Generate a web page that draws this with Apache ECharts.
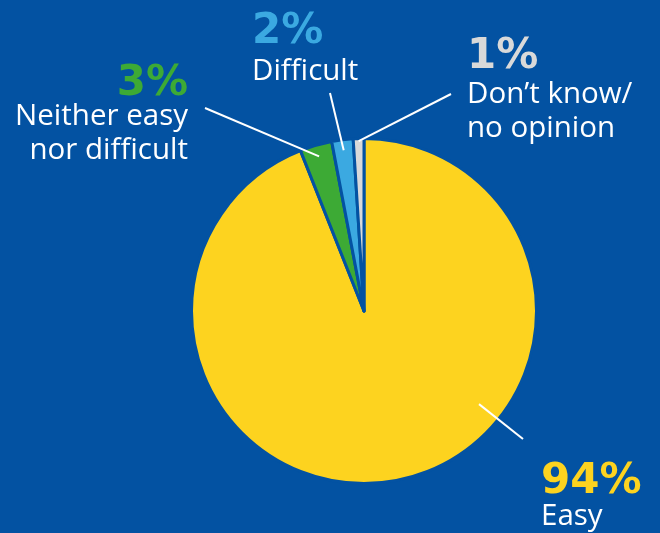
<!DOCTYPE html>
<html>
<head>
<meta charset="utf-8">
<script src="https://cdn.jsdelivr.net/npm/echarts@6/dist/echarts.min.js"></script>
<style>
  html, body { margin: 0; padding: 0; background: #0352A2; }
  #chart { width: 660px; height: 533px; }
</style>
</head>
<body>
<div id="chart"></div>
<script>
// Survey answers, in clockwise order from 12 o'clock
const categories = ['Easy', 'Neither easy\nnor difficult', 'Difficult', 'Don\u2019t know/\nno opinion'];
const values = [94, 3, 2, 1];

const BG = '#0352A2';
const sliceColors = ['#FDD31F', '#3DAA35', '#3BA9E1', '#D9D9D9'];
const numberColors = ['#FDD31F', '#3DAA35', '#3BA9E1', '#D9D9D9'];

const CX = 364, CY = 311, R = 172.5;

// label placement: anchor x, top y, alignment, height of the percentage line,
// where the leader line starts (radius, optional angle) and ends
const labelPlaces = [
  { x: 541, y: 465, align: 'left',  numLH: 34, startR: 148, startAngle: 129, end: [523, 439] },
  { x: 188, y: 69,  align: 'right', numLH: 30, startR: 161, end: [205, 108] },
  { x: 252, y: 10,  align: 'left',  numLH: 44, startR: 162, end: [330, 93] },
  { x: 467, y: 37,  align: 'left',  numLH: 40, startR: 170, end: [451, 94] }
];

const total = values.reduce((a, b) => a + b, 0);
function midAngle(i) {
  let before = 0;
  for (let k = 0; k < i; k++) before += values[k];
  return (before + values[i] / 2) / total * 360;
}
function polar(r, deg) {
  const a = deg * Math.PI / 180;
  return [CX + r * Math.sin(a), CY - r * Math.cos(a)];
}

const NUM_FONT = '"DejaVu Sans", sans-serif';
const TXT_FONT = '"Open Sans", sans-serif';

const sliceData = categories.map((name, i) => ({
  name: name,
  value: values[i],
  itemStyle: { color: sliceColors[i] }
}));

const labelData = categories.map((name, i) => {
  const p = labelPlaces[i];
  return {
    name: name,
    value: values[i],
    label: {
      align: p.align,
      rich: {
        num: { fontSize: 42, fontWeight: 'bold', color: numberColors[i], lineHeight: p.numLH, fontFamily: NUM_FONT, align: p.align },
        txt: { fontSize: 29.5, color: '#FFFFFF', lineHeight: 34.5, fontFamily: TXT_FONT, align: p.align }
      }
    }
  };
});

const chart = echarts.init(document.getElementById('chart'), null, { renderer: 'canvas' });
chart.setOption({
  backgroundColor: BG,
  animation: false,
  series: [
    {
      // the slices
      type: 'pie',
      z: 2,
      center: [CX, CY],
      radius: [0, R],
      startAngle: 90,
      clockwise: true,
      silent: true,
      emphasis: { disabled: true },
      itemStyle: { borderColor: BG, borderWidth: 3 },
      label: { show: false },
      labelLine: { show: false },
      data: sliceData
    },
    {
      // labels and leader lines, drawn above the slices
      type: 'pie',
      z: 3,
      center: [CX, CY],
      radius: [0, R],
      startAngle: 90,
      clockwise: true,
      silent: true,
      avoidLabelOverlap: false,
      emphasis: { disabled: true },
      itemStyle: { color: 'rgba(0,0,0,0)', borderWidth: 0 },
      data: labelData,
      label: {
        show: true,
        position: 'outside',
        fontFamily: TXT_FONT,
        formatter: (params) => {
          const lines = params.name.split('\n').map(s => '{txt|' + s + '}');
          return '{num|' + params.value + '%}\n' + lines.join('\n');
        }
      },
      labelLine: {
        show: true,
        length: 10,
        length2: 10,
        lineStyle: { color: '#FFFFFF', width: 2 }
      },
      labelLayout: (params) => {
        const i = params.dataIndex;
        const p = labelPlaces[i];
        const ang = p.startAngle != null ? p.startAngle : midAngle(i);
        return {
          x: p.x,
          y: p.y,
          align: p.align,
          verticalAlign: 'top',
          labelLinePoints: [polar(p.startR, ang), p.end, p.end]
        };
      }
    }
  ]
});
</script>
</body>
</html>
